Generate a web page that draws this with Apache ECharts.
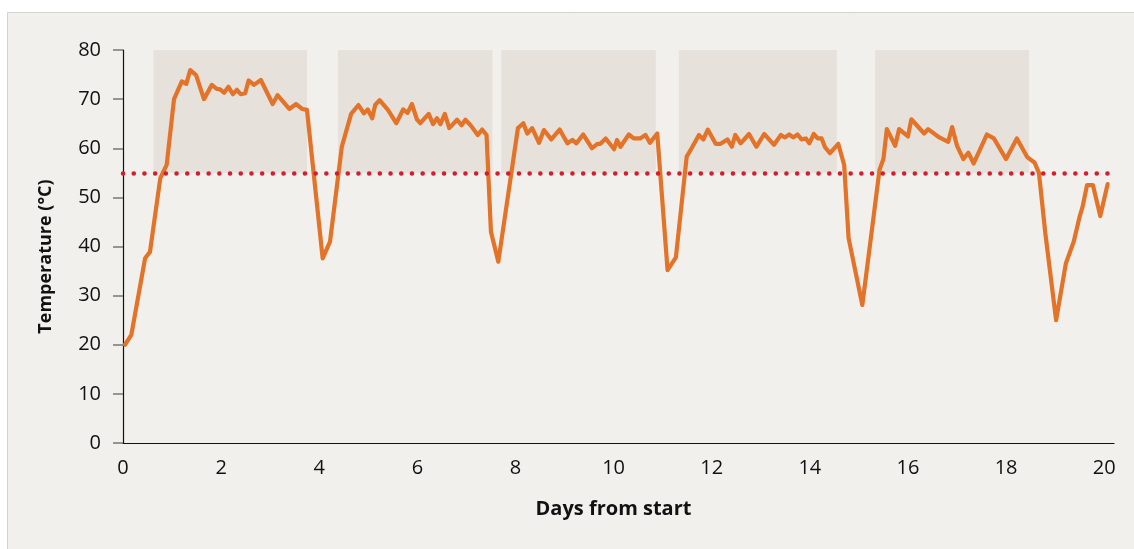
<!DOCTYPE html>
<html>
<head>
<meta charset="utf-8">
<script src="https://cdn.jsdelivr.net/npm/echarts@6/dist/echarts.min.js"></script>
<style>
html,body{margin:0;padding:0;background:#ffffff;}
#chart{width:1134px;height:549px;}
</style>
</head>
<body>
<div id="chart"></div>
<script>
// Temperature readings: [days from start, °C]
const temperature = [
  [0.04,20],[0.17,22],[0.45,37.6],[0.55,38.9],[0.76,53.9],[0.89,56.6],[1.04,70],[1.2,73.6],[1.29,73.1],[1.37,75.9],
  [1.49,74.9],[1.65,70],[1.81,72.9],[1.91,72.1],[1.98,72],[2.06,71.3],[2.15,72.5],[2.24,71],[2.32,71.9],[2.4,71],
  [2.49,71.2],[2.56,73.8],[2.67,72.9],[2.81,73.9],[3.05,69],[3.15,70.8],[3.39,68],[3.53,69],[3.65,68],[3.75,67.8],
  [4.07,37.6],[4.22,41],[4.46,60.3],[4.65,67],[4.8,68.8],[4.91,67.1],[4.99,67.9],[5.08,66.1],[5.14,68.8],[5.23,69.8],
  [5.4,67.8],[5.57,65.1],[5.71,67.9],[5.8,67.2],[5.89,69],[5.99,65.9],[6.06,65.1],[6.23,67],[6.32,64.9],[6.4,66.1],
  [6.47,64.9],[6.56,67],[6.65,64.1],[6.81,65.8],[6.9,64.7],[6.98,65.8],[7.1,64.5],[7.23,62.7],[7.32,63.8],[7.41,62.7],
  [7.5,43],[7.65,36.9],[8.05,64.1],[8.16,65.1],[8.24,63],[8.34,64.1],[8.48,61.1],[8.58,63.7],[8.73,61.8],[8.9,63.8],
  [9.06,61],[9.16,61.7],[9.24,61],[9.38,62.8],[9.56,60],[9.67,60.9],[9.73,60.9],[9.84,62],[10.01,59.8],[10.07,61.7],
  [10.14,60.3],[10.31,62.8],[10.41,62],[10.54,62],[10.65,62.7],[10.74,61.1],[10.89,63],[11.1,35.2],[11.27,37.8],[11.49,58.3],
  [11.59,60],[11.74,62.7],[11.83,61.8],[11.92,63.8],[12.08,60.9],[12.18,60.9],[12.32,61.8],[12.41,60.3],[12.48,62.7],[12.59,61],
  [12.76,62.9],[12.91,60.3],[13.07,62.9],[13.27,60.7],[13.41,62.7],[13.49,62.2],[13.58,62.8],[13.66,62.2],[13.75,62.8],[13.83,61.8],
  [13.92,62],[13.99,61],[14.08,62.9],[14.16,62],[14.24,62],[14.31,60.2],[14.41,59],[14.58,60.9],[14.7,56.6],[14.79,41.7],
  [15.07,28.1],[15.3,46.1],[15.42,55.6],[15.5,57.8],[15.57,63.9],[15.74,60.5],[15.82,63.9],[16.0,62.4],[16.07,65.9],[16.33,63],
  [16.41,63.9],[16.64,62.2],[16.82,61.3],[16.9,64.3],[17.0,60.5],[17.13,57.8],[17.23,59.1],[17.34,56.9],[17.61,62.8],[17.75,62],
  [18.0,57.8],[18.22,62],[18.43,58.2],[18.58,57.1],[18.67,55],[18.8,42.7],[19.02,25],[19.22,36.6],[19.38,41],[19.5,46.1],
  [19.56,48.1],[19.65,52.5],[19.77,52.5],[19.92,46.2],[20.07,52.7]
];

// Shaded periods [start day, end day]
const shadedPeriods = [[0.62,3.75],[4.38,7.53],[7.71,10.86],[11.33,14.55],[15.33,18.47]];
const shadeBottom = 55;
const shadeTop = 80;
const thresholdTemp = 55;

const xTicks = [0,2,4,6,8,10,12,14,16,18,20];
const yTicks = [0,10,20,30,40,50,60,70,80];

const FONT = '"Open Sans", "Noto Sans", sans-serif';

const chart = echarts.init(document.getElementById('chart'), null, {renderer:'canvas'});
chart.setOption({
  backgroundColor:'#ffffff',
  animation:false,
  graphic:[{
    type:'rect', z:-10, silent:true,
    shape:{x:7.5, y:12.5, width:1140, height:560},
    style:{fill:'#f2f0ec', stroke:'#d2d2d0', lineWidth:1}
  }],
  grid:{left:123, top:50, right:20, bottom:106, containLabel:false},
  xAxis:{
    type:'value', min:0, max:20.2, interval:2,
    name:'Days from start', nameLocation:'middle', nameGap:56,
    nameTextStyle:{fontFamily:FONT, fontWeight:700, fontSize:20, color:'#111', padding:[0,10,0,0]},
    axisLine:{show:true, lineStyle:{color:'#111', width:1.2}},
    axisTick:{show:false},
    splitLine:{show:false},
    axisLabel:{
      fontFamily:FONT, fontSize:20, color:'#111', margin:15,
      formatter:function(v){ return xTicks.indexOf(v) >= 0 ? String(v) : ''; }
    }
  },
  yAxis:{
    type:'value', min:0, max:80, interval:10,
    name:'Temperature (°C)', nameLocation:'middle', nameGap:68,
    nameTextStyle:{fontFamily:FONT, fontWeight:700, fontSize:18, color:'#111', padding:[0,20,0,0]},
    axisLine:{show:true, lineStyle:{color:'#111', width:1.2}},
    axisTick:{show:true, inside:false, length:10, lineStyle:{color:'#777', width:1.5}},
    splitLine:{show:false},
    axisLabel:{
      fontFamily:FONT, fontSize:20, color:'#111', margin:22,
      formatter:function(v){ return yTicks.indexOf(v) >= 0 ? String(v) : ''; }
    }
  },
  series:[
    {
      type:'line', name:'shading', data:[], silent:true,
      markArea:{
        silent:true,
        itemStyle:{color:'#e7e1dc'},
        data: shadedPeriods.map(p => [{xAxis:p[0], yAxis:shadeBottom},{xAxis:p[1], yAxis:shadeTop}])
      }
    },
    {
      type:'line', name:'Temperature', data:temperature, showSymbol:false, z:3,
      lineStyle:{color:'#e27328', width:4.2, join:'round', cap:'round'},
      itemStyle:{color:'#e27328'}
    },
    {
      type:'line', name:'threshold', data:[], silent:true, z:4,
      markLine:{
        silent:true, symbol:'none', label:{show:false},
        lineStyle:{color:'#d21f2e', width:4.5, type:[0.1,10.6], cap:'round'},
        data:[{yAxis:thresholdTemp}]
      }
    }
  ]
});
</script>
</body>
</html>
